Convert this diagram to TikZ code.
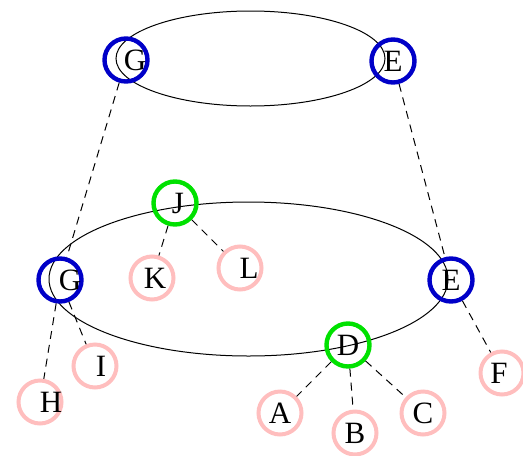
\documentclass[tikz,border=0pt]{standalone}
\usepackage{fontspec}
\setmainfont{Liberation Serif}
\definecolor{ringblue}{RGB}{0,0,200}
\definecolor{ringgreen}{RGB}{0,225,0}
\definecolor{ringpink}{RGB}{255,190,190}

\begin{document}
\begin{tikzpicture}[x=0.5pt,y=-0.5pt,
  every node/.style={font=\fontsize{15.5}{18}\selectfont},
  ring/.style={circle,minimum size=21.5pt,inner sep=0pt},
  blue ring/.style={ring,draw=ringblue,line width=2.2pt},
  green ring/.style={ring,draw=ringgreen,line width=2.2pt},
  pink ring/.style={ring,draw=ringpink,line width=2pt},
  link/.style={dashed,dash pattern=on 4pt off 3pt,line width=0.5pt}]
  \useasboundingbox (0,0) rectangle (523,455);

  % the two clusters
  \draw[line width=0.5pt] (250.5,58.5) ellipse [x radius=67.25pt, y radius=23.75pt];
  \draw[line width=0.5pt] (248.5,279) ellipse [x radius=99.75pt, y radius=38.5pt];

  % top level
  \node [blue ring, label={[xshift=4.5pt]center:G}] (Gt) at (126,60) {};
  \node [blue ring, label={center:E}] (Et) at (393,61) {};

  % lower level
  \node [green ring, label={[xshift=1.5pt]center:J}] (J) at (175,203) {};
  \node [pink ring, label={[xshift=1.5pt]center:K}] (K) at (152,278) {};
  \node [pink ring, label={[xshift=4.5pt]center:L}] (L) at (240,268) {};
  \node [blue ring, label={[xshift=5pt]center:G}] (Gb) at (60,280) {};
  \node [blue ring, label={center:E}] (Eb) at (451,280) {};
  \node [pink ring, label={[xshift=3pt]center:I}] (I) at (95,366) {};
  \node [pink ring, label={[xshift=5.5pt]center:H}] (H) at (40,402) {};
  \node [green ring, label={center:D}] (D) at (348,345) {};
  \node [pink ring, label={center:A}] (A) at (280,413) {};
  \node [pink ring, label={center:B}] (B) at (355,433) {};
  \node [pink ring, label={center:C}] (C) at (423,413) {};
  \node [pink ring, label={[xshift=-1.5pt]center:F}] (F) at (502,373) {};

  \draw[link] (Gt) -- (Gb);
  \draw[link] (Et) -- (Eb);
  \draw[link] (J) -- (K);
  \draw[link] (J) -- (L);
  \draw[link] (Gb) -- (H);
  \draw[link] (Gb) -- (I);
  \draw[link] (D) -- (A);
  \draw[link] (D) -- (B);
  \draw[link] (D) -- (C);
  \draw[link] (Eb) -- (F);
\end{tikzpicture}
\end{document}
